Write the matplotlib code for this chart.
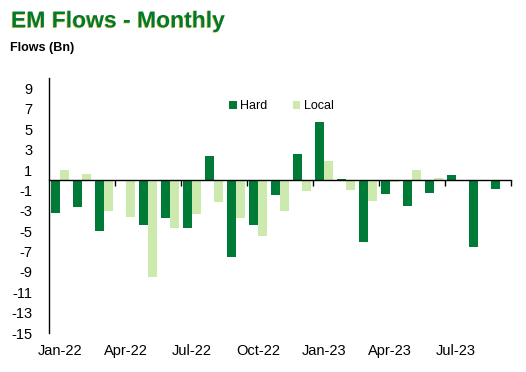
import matplotlib
matplotlib.use("Agg")
import matplotlib.pyplot as plt
import matplotlib.patheffects as pe
import numpy as np

months = ["Jan-22", "Feb-22", "Mar-22", "Apr-22", "May-22", "Jun-22", "Jul-22",
          "Aug-22", "Sep-22", "Oct-22", "Nov-22", "Dec-22", "Jan-23", "Feb-23",
          "Mar-23", "Apr-23", "May-23", "Jun-23", "Jul-23", "Aug-23", "Sep-23"]
hard = [-3.2, -2.6, -5.0, 0.0, -4.4, -3.7, -4.7, 2.4, -7.5, -4.35, -1.5,
        2.6, 5.7, 0.1, -6.1, -1.4, -2.5, -1.3, 0.55, -6.6, -0.9]
local = [1.0, 0.65, -3.0, -3.6, -9.5, -4.7, -3.3, -2.1, -3.7, -5.5, -3.0,
         -1.1, 1.9, -1.0, -2.0, -0.15, 1.0, 0.2, 0.0, 0.0, 0.0]
yticks = list(range(-15, 10, 2))

dark = "#007A37"
light = "#CCE9AE"

plt.rcParams["font.family"] = ["Liberation Sans", "DejaVu Sans"]

fig = plt.figure(figsize=(5.26, 3.72), dpi=100)
ax = fig.add_axes([0.0932, 0.1048, 0.8783, 0.6847])

x = np.arange(len(months))
w = 0.41
ax.bar(x - w / 2, hard, w, color=dark, label="Hard")
ax.bar(x + w / 2, local, w, color=light, label="Local")

ax.set_yticks(yticks)
ax.set_yticklabels([str(v) for v in yticks], fontsize=10.5)
ax.tick_params(axis="y", length=0, pad=12)

# zero line with ticks between every 3rd month
ax.spines["bottom"].set_position(("data", 0))
ax.spines["top"].set_visible(False)
ax.spines["right"].set_visible(False)
ax.spines["left"].set_linewidth(1.0)
ax.spines["bottom"].set_linewidth(1.0)
ax.set_xticks(np.arange(2.5, len(months), 3))
ax.set_xticklabels([])
ax.tick_params(axis="x", length=4, width=1, direction="out")
ax.set_xlim(-0.5, len(months) - 0.5)
ax.set_ylim(-15, 10)

for i in range(0, len(months), 3):
    ax.text(i, -0.045, months[i], transform=ax.get_xaxis_transform(),
            ha="center", va="top", fontsize=10.5)

leg = fig.legend(loc="center", bbox_to_anchor=(0.535, 0.715), ncol=2,
                 frameon=False, fontsize=9, handlelength=0.6, handleheight=0.6,
                 handletextpad=0.3, columnspacing=2.0)

fig.text(0.021, 0.9266, "EM Flows - Monthly", fontsize=16.5, fontweight="bold",
         color="#007A33", va="baseline",
         path_effects=[pe.withSimplePatchShadow(offset=(-0.5, -0.5),
                                                shadow_rgbFace="#E8C040", alpha=1)])
fig.text(0.019, 0.8637, "Flows (Bn)", fontsize=9, fontweight="bold",
         color="black", va="baseline")

fig.savefig("out.png", dpi=100)
